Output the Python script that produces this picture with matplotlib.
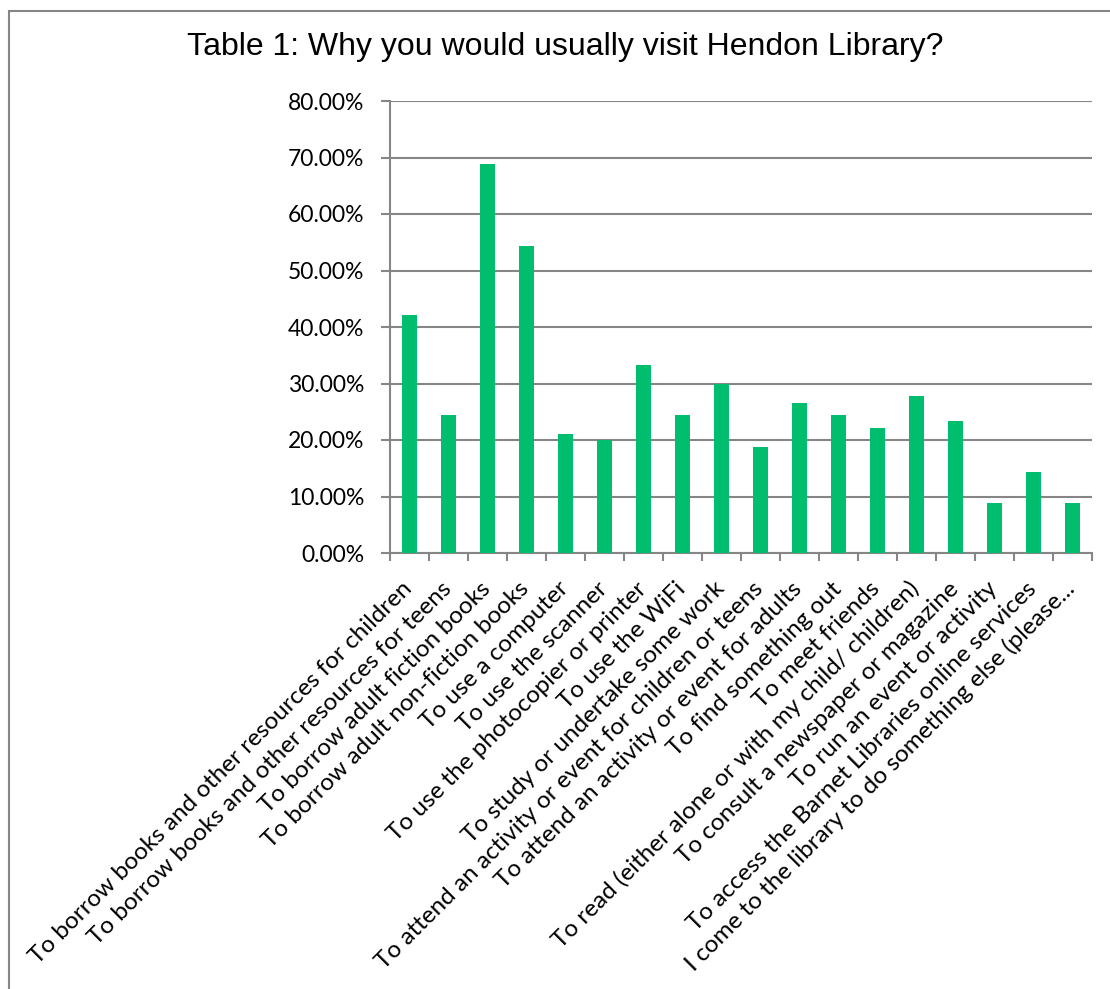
import matplotlib
matplotlib.use("Agg")
import matplotlib.pyplot as plt
from matplotlib.patches import Rectangle
from matplotlib.ticker import FuncFormatter, MultipleLocator
from matplotlib.transforms import ScaledTranslation
import numpy as np

title = "Table 1: Why you would usually visit Hendon Library?"
categories = [
    "To borrow books and other resources for children",
    "To borrow books and other resources for teens",
    "To borrow adult fiction books",
    "To borrow adult non-fiction books",
    "To use a computer",
    "To use the scanner",
    "To use the photocopier or printer",
    "To use the WiFi",
    "To study or undertake some work",
    "To attend an activity or event for children or teens",
    "To attend an activity or event for adults",
    "To find something out",
    "To meet friends",
    "To read (either alone or with my child/ children)",
    "To consult a newspaper or magazine",
    "To run an event or activity",
    "To access the Barnet Libraries online services",
    "I come to the library to do something else (please...",
]
values = [42.1, 24.4, 68.8, 54.4, 21.0, 20.0, 33.3, 24.4, 30.0,
          18.8, 26.6, 24.4, 22.2, 27.7, 23.3, 8.8, 14.4, 8.8]

label_font = "Lato"
grid_color = "#868686"
bar_color = "#00BE6E"

fig = plt.figure(figsize=(11.10, 9.89), dpi=100)
fig.patch.set_facecolor("white")

# outer chart border
fig.patches.append(Rectangle((9 / 1110, -0.05), 1.2, 1 - 11 / 989 + 0.05,
                             transform=fig.transFigure, fill=False,
                             edgecolor=grid_color, linewidth=1.5))

ax = fig.add_axes([390 / 1110, 1 - 553 / 989, (1092 - 390) / 1110, (553 - 101) / 989])
x = np.arange(len(categories))
ax.bar(x, values, width=0.4, color=bar_color, zorder=3)

ax.set_xlim(-0.5, len(categories) - 0.5)
ax.set_ylim(0, 80)
ax.yaxis.set_major_locator(MultipleLocator(10))
ax.yaxis.set_major_formatter(FuncFormatter(lambda v, p: f"{v:.2f}%"))
ax.grid(axis="y", color=grid_color, linewidth=1.5, zorder=0)

ax.set_xticks(np.arange(len(categories) + 1) - 0.5)
ax.set_xticklabels([])
ax.tick_params(axis="x", which="major", length=5.5, width=1.5, color=grid_color)
ax.tick_params(axis="y", length=6.5, width=1.5, color=grid_color, labelsize=16.5, pad=12)
for lab in ax.get_yticklabels():
    lab.set_family(label_font)

offset = ScaledTranslation(4 / 100, -37 / 100, fig.dpi_scale_trans)
for xi, cat in zip(x, categories):
    ax.text(xi, 0, cat, transform=ax.get_xaxis_transform() + offset,
            rotation=45, rotation_mode="anchor", ha="right", va="baseline",
            fontsize=17.5, family=label_font, clip_on=False)

for s in ["top", "right"]:
    ax.spines[s].set_visible(False)
for s in ["left", "bottom"]:
    ax.spines[s].set_color(grid_color)
    ax.spines[s].set_linewidth(1.5)

fig.text(565 / 1110, 1 - 47 / 989, title, ha="center", va="center",
         fontsize=23, family="Liberation Sans")

fig.savefig("out.png", dpi=100, facecolor="white")
